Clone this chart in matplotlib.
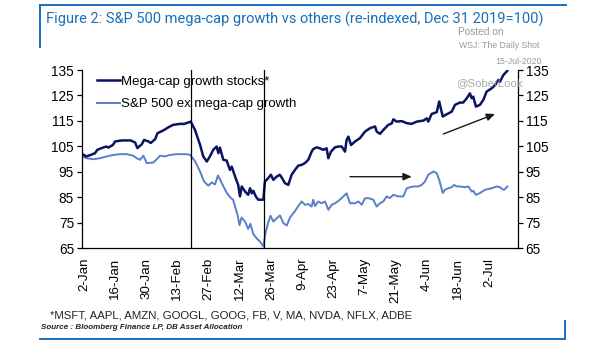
import numpy as np
import matplotlib
matplotlib.use("Agg")
import matplotlib.pyplot as plt
import matplotlib.dates as mdates
from matplotlib.lines import Line2D
import datetime as dt

# ---------------- data (days since 2020-01-01, index values) ----------------
mega_days = [1, 2, 4, 6, 7, 9, 11, 12, 14, 15, 18, 20, 22, 24, 25, 27, 28, 30, 31, 33,
             34, 37, 39, 41, 44, 46, 49, 50.9, 53.2, 54.6, 56.2, 57.6, 59.1, 60.6, 61.4,
             62.1, 63.6, 65.1, 66.6, 67.4, 68.9, 70.3, 71.1, 71.9, 73.4, 74.8, 75.6, 76.4,
             77.1, 78.2, 79.3, 81.6, 82.3, 83.8, 85, 86.1, 87.6, 89, 90, 91.3, 92.8, 94.3,
             95.8, 97.3, 98.8, 100.3, 101.8, 103.3, 104, 105.6, 107, 108.5, 110, 110.8, 112,
             113.8, 115.3, 116.8, 118.3, 119, 119.8, 121, 122.8, 125, 127.3, 129.5, 131.8,
             132.5, 134, 135.5, 137.7, 139.3, 140, 141.5, 143.8, 146, 148.2, 150.5, 153.5,
             155, 155.7, 157.2, 159.5, 160.6, 162.2, 164, 166.2, 167.7, 169.9, 171.4, 173,
             174.4, 175.2, 175.9, 177.1, 178.9, 180.4, 181.9, 184.2, 185.7, 187.2, 187.9,
             189.4, 191.2]
mega_vals = [101.6, 101.0, 101.6, 102.3, 103.6, 104.3, 104.9, 104.5, 105.5, 106.9, 107.3,
             107.3, 107.3, 106.5, 104.3, 105.8, 107.5, 106.9, 106.3, 107.8, 110.1, 111.4,
             112.5, 113.4, 113.8, 113.8, 114.7, 111.4, 105.5, 101.0, 99.0, 101.0, 103.6,
             104.9, 102.3, 104.5, 99.7, 99.4, 95.7, 97.0, 93.1, 89.8, 85.3, 89.2, 87.2, 85.9,
             88.5, 86.5, 87.5, 85.3, 84.0, 84.0, 91.1, 92.5, 93.8, 91.8, 93.1, 93.8, 92.5,
             90.5, 89.8, 93.8, 95.7, 97.4, 97.7, 98.4, 99.7, 102.9, 103.9, 104.6, 104.2,
             103.6, 104.2, 100.3, 102.9, 104.6, 104.9, 104.9, 102.9, 107.5, 108.8, 105.5,
             106.9, 108.2, 110.8, 112.1, 112.8, 110.8, 109.9, 111.4, 113.4, 114.0, 115.6,
             114.7, 114.9, 114.1, 113.8, 114.7, 115.1, 116.0, 114.7, 117.7, 118.4, 122.6,
             116.7, 117.6, 118.6, 121.3, 122.2, 122.2, 123.9, 125.8, 123.9, 124.5, 120.6,
             121.3, 123.2, 126.5, 127.8, 129.1, 131.1, 130.4, 133.0, 134.7]

ex_days = [1, 2.2, 5.2, 8.2, 11.2, 14.2, 17.2, 20.2, 23.2, 24.7, 26.2, 27.7, 29.2, 32.2,
           33.7, 35.2, 37.4, 39.7, 42.7, 47.2, 48.7, 50.9, 53.2, 55, 56.9, 58.4, 59.9, 61.2,
           62.1, 63.5, 65.1, 66.6, 68, 68.9, 70, 70.9, 71.8, 73.4, 74.8, 75.8, 77.1, 78.6,
           80.1, 81.6, 82.6, 83.8, 84.8, 86.1, 87.6, 89.1, 90.6, 92.1, 93.6, 95.8, 97.3,
           98.8, 100.3, 101.8, 103.3, 104, 104.8, 106.3, 107.8, 109.3, 110.8, 112.3, 113.8,
           116, 118.3, 119, 120.5, 122.8, 124.3, 125.8, 127.3, 128.8, 131, 132.5, 134,
           135.5, 137, 138.4, 140, 142.2, 144.5, 146, 149, 151.2, 152.7, 154.2, 155.7, 158,
           159.5, 160.6, 162.2, 163.2, 164.7, 166.2, 167.3, 168.5, 170, 172.2, 173.7, 175.2,
           175.9, 177.1, 178.9, 181.2, 184.2, 186.4, 187.9, 189.4, 190.2, 191.2]
ex_vals = [100.7, 100.3, 99.9, 100.3, 101.0, 101.6, 101.9, 101.9, 101.3, 100.3, 99.7, 101.3,
           98.4, 98.6, 99.9, 101.3, 101.0, 101.6, 101.9, 101.9, 101.6, 99.2, 95.0, 91.1,
           89.5, 90.8, 90.0, 93.5, 92.0, 89.5, 86.8, 85.0, 84.0, 81.3, 78.0, 74.0, 77.0,
           75.4, 72.5, 74.5, 70.5, 68.8, 67.5, 65.6, 71.0, 75.0, 77.7, 75.4, 76.7, 77.8,
           74.8, 73.8, 77.0, 79.5, 81.5, 83.3, 82.0, 82.3, 81.3, 84.0, 81.5, 83.3, 82.6,
           83.3, 80.0, 82.0, 82.6, 84.0, 85.9, 86.5, 82.6, 82.6, 83.3, 82.0, 84.6, 84.6,
           84.0, 81.3, 82.6, 83.3, 85.3, 84.6, 85.9, 85.3, 85.3, 88.5, 89.2, 89.2, 89.8,
           91.1, 93.8, 95.1, 94.4, 91.8, 86.6, 87.9, 88.5, 88.9, 89.8, 89.2, 89.2, 88.9,
           89.2, 87.2, 87.5, 85.9, 86.6, 87.9, 88.5, 89.2, 88.9, 87.9, 88.2, 89.2]

tick_dates = ["2020-01-02", "2020-01-16", "2020-01-30", "2020-02-13", "2020-02-27",
              "2020-03-12", "2020-03-26", "2020-04-09", "2020-04-23", "2020-05-07",
              "2020-05-21", "2020-06-04", "2020-06-18", "2020-07-02"]
tick_labels = ["2-Jan", "16-Jan", "30-Jan", "13-Feb", "27-Feb", "12-Mar", "26-Mar",
               "9-Apr", "23-Apr", "7-May", "21-May", "4-Jun", "18-Jun", "2-Jul"]
event_dates = ["2020-02-19", "2020-03-23"]
y_ticks = [65, 75, 85, 95, 105, 115, 125, 135]
series_names = ["Mega-cap growth stocks*", "S&P 500 ex mega-cap growth"]

# ---------------- figure ----------------
W, H = 605, 341
fig = plt.figure(figsize=(W / 100, H / 100), dpi=100)
fig.patch.set_facecolor("white")

L, R, T, B = 81.7, 518, 70, 248
ax = fig.add_axes([L / W, 1 - B / H, (R - L) / W, (B - T) / H])

base = mdates.date2num(dt.datetime(2020, 1, 1))
mx = base + np.array(mega_days)
ex = base + np.array(ex_days)

dark = "#0b1463"
light = "#5a7fc8"
ax.plot(ex, ex_vals, color=light, lw=1.4, solid_joinstyle="round")
ax.plot(mx, mega_vals, color=dark, lw=1.8, solid_joinstyle="round")

for d in event_dates:
    ax.axvline(mdates.datestr2num(d), color="black", lw=0.9)

ax.set_xlim(base, base + 196)
ax.set_ylim(65, 135)
ax.set_xticks([mdates.datestr2num(d) for d in tick_dates])
ax.set_xticklabels(tick_labels, rotation=90, fontsize=9.6, family="Liberation Sans")
ax.tick_params(axis="x", length=0, pad=7)
ax.set_yticks(y_ticks)
ax.tick_params(axis="y", which="both", direction="out", length=3.5, width=0.9,
               left=True, right=True, labelleft=True, labelright=True,
               labelsize=9.8, pad=2)
for lab in ax.get_yticklabels():
    lab.set_family("Liberation Sans")
ax.spines["top"].set_visible(False)
for s in ("left", "right", "bottom"):
    ax.spines[s].set_color("black")
    ax.spines[s].set_linewidth(0.9)

handles = [Line2D([], [], color=dark, lw=1.8), Line2D([], [], color=light, lw=1.4)]
leg = ax.legend(handles, series_names, loc="upper left",
                bbox_to_anchor=((97 - L) / (R - L), (B - 75.5) / (B - T)),
                frameon=False, borderpad=0, borderaxespad=0, handlelength=1.75,
                handletextpad=0.1, labelspacing=0.78,
                prop={"family": "Liberation Sans", "size": 9.5})

# arrows
def axfrac(px, py):
    return ((px - L) / (R - L), (B - py) / (B - T))

ax.annotate("", xy=axfrac(495, 114), xytext=axfrac(443.3, 134), xycoords="axes fraction",
            textcoords="axes fraction",
            arrowprops=dict(arrowstyle="-|>,head_length=0.5,head_width=0.22",
                            color="#1a1a1a", lw=1.0, shrinkA=0, shrinkB=0))
ax.annotate("", xy=axfrac(411.7, 176.7), xytext=axfrac(350, 176.7), xycoords="axes fraction",
            textcoords="axes fraction",
            arrowprops=dict(arrowstyle="-|>,head_length=0.5,head_width=0.22",
                            color="#1a1a1a", lw=1.0, shrinkA=0, shrinkB=0))

# frame lines (blue)
blue = "#1670c0"
fig.add_artist(Line2D([40 / W, 566 / W], [1 - 5 / H, 1 - 5 / H], color=blue, lw=1.4))
fig.add_artist(Line2D([40 / W, 40 / W], [1 - 5 / H, 1 - 47 / H], color=blue, lw=1.4))
fig.add_artist(Line2D([40 / W, 565 / W], [1 - 339 / H, 1 - 339 / H], color=blue, lw=1.4))
fig.add_artist(Line2D([565 / W, 565 / W], [1 - 339 / H, 1 - 321 / H], color=blue, lw=1.4))

fig.text(46 / W, 1 - 19.5 / H,
         "Figure 2: S&P 500 mega-cap growth vs others (re-indexed, Dec 31 2019=100)",
         color="#1a6fb8", fontsize=10.5, family="Roboto", va="center", ha="left")

# watermark
wm = "#9a9a9a"
fig.text(458 / W, 1 - 32 / H, "Posted on", color=wm, fontsize=7.3, family="Liberation Sans",
         va="center")
fig.text(459 / W, 1 - 46 / H, "WSJ: The Daily Shot", color=wm, fontsize=6.3,
         family="Liberation Sans", va="center")
fig.text(495 / W, 1 - 62 / H, "15-Jul-2020", color=wm, fontsize=6.3,
         family="Liberation Sans", va="center")
fig.text(456 / W, 1 - 83 / H, "@SoberLook", color=wm, fontsize=8.2, alpha=0.85,
         family="Liberation Sans", va="center")

# footnotes
fig.text(50 / W, 1 - 316 / H, "*MSFT, AAPL, AMZN, GOOGL, GOOG, FB, V, MA, NVDA, NFLX, ADBE",
         color="#222222", fontsize=8.2, family="Liberation Sans", va="center")
fig.text(41 / W, 1 - 327.5 / H, "Source : Bloomberg Finance LP, DB Asset Allocation",
         color="#222222", fontsize=5.8, family="Liberation Sans", style="italic",
         weight="bold", va="center")

fig.savefig("out.png", dpi=100, facecolor="white")
